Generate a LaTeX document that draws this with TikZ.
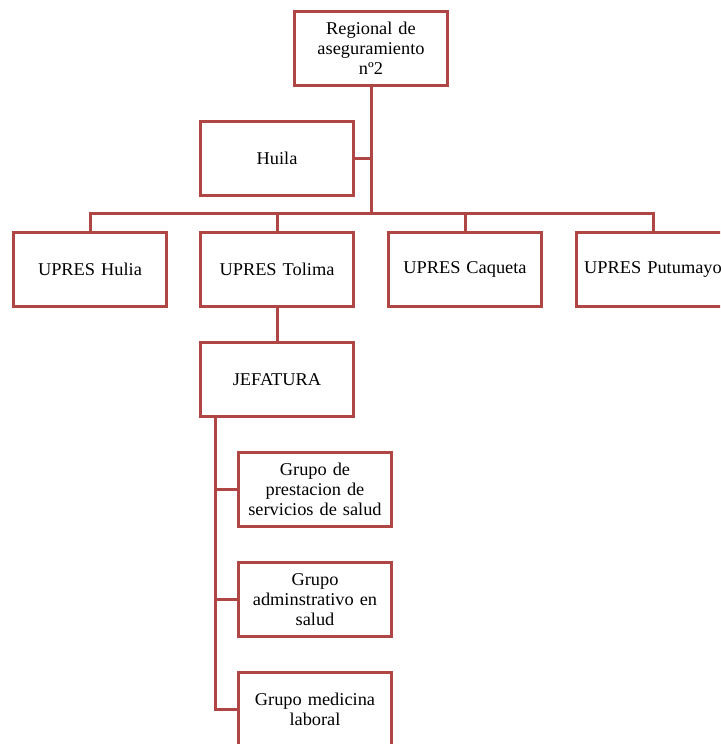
\documentclass[tikz,border=0pt]{standalone}
\usepackage{fontspec}
\setmainfont{Liberation Serif}[FakeStretch=1.02]
\definecolor{orgred}{RGB}{176,70,68}
\begin{document}
\begin{tikzpicture}[x=1pt,y=-1pt,
  box/.style={draw=orgred,line width=3pt,fill=white,minimum width=153pt,minimum height=74pt,
    inner sep=0pt,align=center,font=\fontsize{18}{20}\selectfont,anchor=north west,text width=153pt},
  conn/.style={draw=orgred,line width=3pt}]
\useasboundingbox (0,0) rectangle (720,744);
\clip (0,0) rectangle (720,744);
\node[box] (reg) at (293,10) {Regional de\\aseguramiento\\nº2};
\node[box] (hui) at (199,120) {Huila};
\node[box] (uh) at (12,231) {UPRES Hulia};
\node[box] (ut) at (199,231) {UPRES Tolima};
\node[box] (uc) at (387,231) {UPRES Caqueta};
\node[box] (up) at (575,231) {UPRES Putumayo};
\node[box] (jef) at (199,341) {JEFATURA};
\node[box] (g1) at (237,451) {Grupo de\\prestacion de\\servicios de salud};
\node[box] (g2) at (237,561) {Grupo\\adminstrativo en\\salud};
\node[box] (g3) at (237,671) {Grupo medicina\\laboral};
\coordinate (bus) at (reg.south |- 0,213);
\draw[conn] (reg.south) -- (bus);
\draw[conn] (hui.east) -- (hui.east -| reg.south);
\draw[conn] (uh.north) |- (bus) -| (up.north);
\draw[conn] (ut.north) -- (ut.north |- bus);
\draw[conn] (uc.north) -- (uc.north |- bus);
\draw[conn] (ut.south) -- (jef.north);
\coordinate (tr) at (215,418);
\draw[conn] (tr) |- (g3.west);
\draw[conn] (g1.west) -- (g1.west -| tr);
\draw[conn] (g2.west) -- (g2.west -| tr);
\end{tikzpicture}
\end{document}
